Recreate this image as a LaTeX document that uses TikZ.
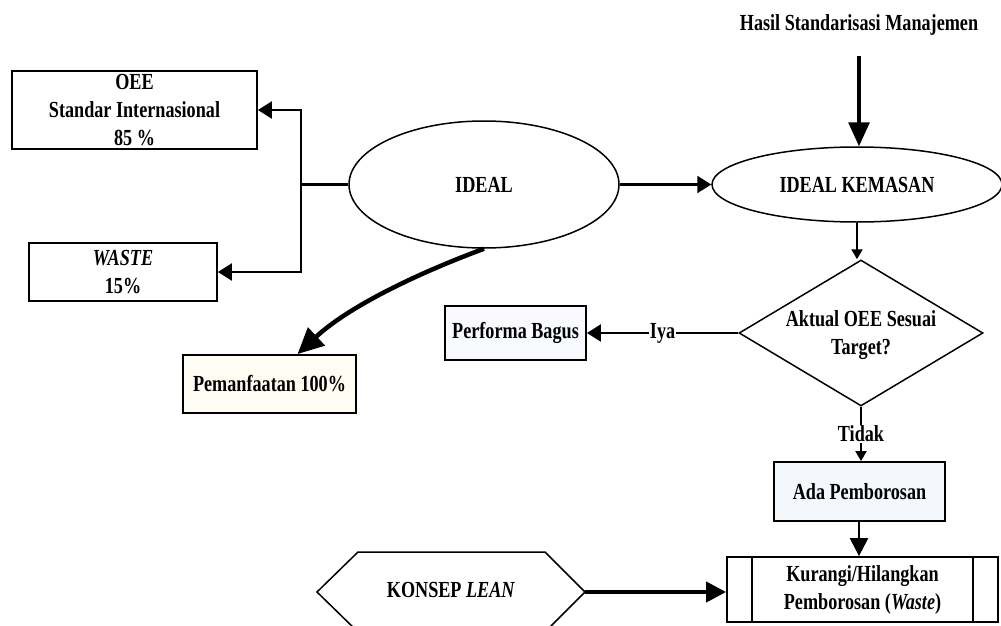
\documentclass[tikz,border=0pt]{standalone}
\usepackage{fontspec}
\setmainfont{Liberation Serif}[FakeStretch=0.79]
\usetikzlibrary{arrows.meta,shapes.geometric,calc}

\tikzset{
  x=1pt, y=-1pt,
  every node/.style={font=\fontsize{23}{28}\selectfont\bfseries, align=center},
  box/.style={draw, line width=1.8pt, rectangle, inner sep=2pt},
  oval/.style={draw, line width=1.5pt, ellipse, inner sep=0pt},
  decision/.style={draw, line width=1.5pt, diamond, inner sep=0pt},
  link/.style={line width=2.2pt},
  arr/.style={line width=2.2pt, -{Triangle[length=14pt,width=17pt]}},
  arrsmall/.style={line width=2pt, -{Triangle[length=10pt,width=11pt]}},
  arrbig/.style={line width=3.2pt, -{Triangle[length=24pt,width=21pt]}},
  arrmid/.style={line width=2.4pt, -{Triangle[length=18pt,width=18pt]}},
  lbl/.style={fill=white, inner sep=1pt}
}

\begin{document}
\begin{tikzpicture}
\useasboundingbox (0,0) rectangle (1001,626);
\clip (0,0) rectangle (1001,626);
\fill[white] (0,0) rectangle (1001,626);

% left branch: targets from the ideal state
\node[box, minimum width=245pt, minimum height=78pt] (oee) at (134.5,110) {OEE\\Standar Internasional\\85 \%};
\node[box, minimum width=188pt, minimum height=58pt] (waste) at (123,272) {\textit{WASTE}\\15\%};
\node[box, fill={rgb,255:red,255;green,252;blue,243}, minimum width=173pt, minimum height=58pt] (pem) at (269.5,384) {Pemanfaatan 100\%};

% ideal states
\node[oval, minimum width=270pt, minimum height=127pt] (ideal) at (484,184.5) {IDEAL};
\node[oval, minimum width=290pt, minimum height=75pt] (kem) at (857,184.5) {IDEAL KEMASAN};
\node (hasil) at (859,25) {Hasil Standarisasi Manajemen};

% decision
\node[decision, minimum width=244pt, minimum height=146pt] (dec) at (861,333) {};
\node (dectxt) at (861,335) {Aktual OEE Sesuai\\Target?};
\node[box, fill={rgb,255:red,248;green,250;blue,253}, minimum width=141pt, minimum height=54pt] (perf) at (515.5,333) {Performa Bagus};
\node[box, fill={rgb,255:red,244;green,248;blue,252}, minimum width=171pt, minimum height=59pt] (ada) at (859.5,491.5) {Ada Pemborosan};

% predefined process
\node[box, minimum width=271pt, minimum height=65pt] (kur) at (862.5,589.5) {Kurangi/Hilangkan\\Pemborosan (\textit{Waste})};
\draw[line width=1.5pt] ([xshift=26pt]kur.north west) -- ([xshift=26pt]kur.south west);
\draw[line width=1.5pt] ([xshift=-26pt]kur.north east) -- ([xshift=-26pt]kur.south east);

% lean concept hexagon
\coordinate (leanL) at (317,592);
\coordinate (leanR) at (585,592);
\draw[line width=1.5pt] (leanL) -- (358,552) -- (545,552) -- (leanR) -- (545,632) -- (358,632) -- cycle;
\node (lean) at (451,590) {KONSEP \textit{LEAN}};

% connectors
\draw[link] (ideal.west) -- ++(-47,0) coordinate (jn);
\draw[arr] (jn) |- (oee.east);
\draw[arr] (jn) |- (waste.east);
\draw[arr] (ideal.east) -- (kem.west);
\draw[arrbig, shorten <=17pt] (hasil.south) -- (hasil.south |- kem.north);
\draw[line width=4.5pt, -{Triangle[length=26pt,width=24pt]}]
  (ideal.south) .. controls (413,275) and (347,308) .. ([xshift=28pt]pem.north);
\draw[arrsmall] (kem.south) -- (kem.south |- dec.north);
\draw[arr] (dec.west) -- node[lbl, pos=0.5] (iya) {Iya} (perf.east);
\draw[arrsmall] (dec.south) -- node[lbl, pos=0.5] (tidak) {Tidak} (dec.south |- ada.north);
\draw[arrmid] (ada.south -| 859,0) -- (kur.north -| 859,0);
\draw[line width=4pt, -{Triangle[length=20pt,width=20pt]}] (leanR) -- (kur.west |- leanR);
\end{tikzpicture}
\end{document}
